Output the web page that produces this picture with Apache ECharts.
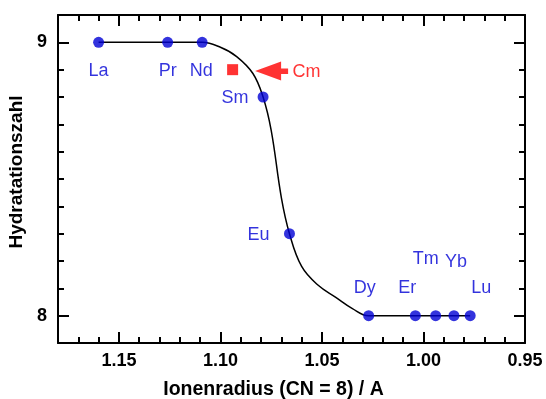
<!DOCTYPE html>
<html>
<head>
<meta charset="utf-8">
<script src="https://cdn.jsdelivr.net/npm/echarts@6/dist/echarts.min.js"></script>
<style>
  html, body { margin: 0; padding: 0; background: #fff; }
  #chart { width: 546px; height: 399px; }
</style>
</head>
<body>
<div id="chart"></div>
<script>
// lanthanides: ionic radius (CN = 8) and hydration number
const lnNames = ["La", "Pr", "Nd", "Sm", "Eu", "Dy", "Er", "Tm", "Yb", "Lu"];
const lnRadii = [1.160, 1.126, 1.109, 1.079, 1.066, 1.027, 1.004, 0.994, 0.985, 0.977];
const lnHydration = [9, 9, 9, 8.80, 8.30, 8, 8, 8, 8, 8];

// curium point and the arrow pointing at it
const cmPoint = [1.094, 8.90];
const cmArrow = [1.0748, 8.895];

// guide curve
const curveX = [1.160, 1.126, 1.109, 1.100, 1.092, 1.084, 1.079, 1.075, 1.070, 1.066,
                1.060, 1.052, 1.043, 1.035, 1.027, 1.004, 0.977];
const curveY = [9.000, 9.000, 9.000, 8.982, 8.948, 8.886, 8.800, 8.678, 8.432, 8.300,
                8.180, 8.112, 8.066, 8.026, 8.000, 8.000, 8.000];

const yLabelValues = [8, 9];

// label placement (pixels, relative to the dot)
const labelOffsets = {
  La: [0, 29], Pr: [0, 29], Nd: [-1, 29], Sm: [-28, 1], Eu: [-31, 1],
  Dy: [-4, -28], Er: [-8, -28], Tm: [-10, -57], Yb: [2, -54], Lu: [11, -28]
};

const blue = '#0000d4';
const red = '#ff0000';
const font = '"Liberation Sans", Arial, sans-serif';

const chart = echarts.init(document.getElementById('chart'));

function xAx(pos, step, len, extra) {
  return Object.assign({
    type: 'value', position: pos, inverse: true, min: 0.95, max: 1.18, interval: step,
    axisLine: { show: len > 8, lineStyle: { color: '#000', width: 2 } },
    axisTick: { show: true, inside: true, length: len, lineStyle: { color: '#000', width: 2 } },
    axisLabel: { show: false },
    splitLine: { show: false }
  }, extra || {});
}

function yAx(pos, major, extra) {
  const a = {
    type: 'value', position: pos, min: 7.9, max: 9.1,
    axisLine: { show: major, lineStyle: { color: '#000', width: 2 } },
    axisTick: { show: true, inside: true, length: major ? 11 : 6, lineStyle: { color: '#000', width: 2 } },
    axisLabel: { show: false },
    splitLine: { show: false }
  };
  if (major) {
    a.axisTick.customValues = yLabelValues;
  } else {
    a.interval = 0.1;
  }
  return Object.assign(a, extra || {});
}

const option = {
  animation: false,
  textStyle: { fontFamily: font },
  grid: { left: 58, right: 21, top: 15, bottom: 56, containLabel: false, outerBoundsMode: 'none' },
  xAxis: [
    xAx('bottom', 0.05, 11, {
      name: 'Ionenradius (CN = 8) / A',
      nameLocation: 'middle',
      nameGap: 37,
      nameTextStyle: {
        color: '#000', fontWeight: 'bold', fontSize: 19.5, fontFamily: font,
        padding: [0, 36, 0, 0]
      },
      axisLabel: {
        show: true, margin: 9, color: '#000', fontWeight: 'bold', fontSize: 18, fontFamily: font,
        formatter: function (v) {
          return Math.abs(v * 20 - Math.round(v * 20)) < 1e-6 ? v.toFixed(2) : '';
        }
      }
    }),
    xAx('bottom', 0.01, 6),
    xAx('top', 0.05, 11),
    xAx('top', 0.01, 6)
  ],
  yAxis: [
    yAx('left', true, {
      name: 'Hydratationszahl',
      nameLocation: 'middle',
      nameGap: 27,
      nameTextStyle: {
        color: '#000', fontWeight: 'bold', fontSize: 19, fontFamily: font,
        padding: [0, 0, 0, 14]
      },
      axisLabel: {
        show: true, margin: 11, color: '#000', fontWeight: 'bold', fontSize: 18, fontFamily: font,
        customValues: yLabelValues
      }
    }),
    yAx('left', false),
    yAx('right', true),
    yAx('right', false)
  ],
  series: [
    {
      type: 'line',
      data: curveX.map((x, i) => [x, curveY[i]]),
      smooth: 0.4,
      showSymbol: false,
      lineStyle: { color: '#000', width: 1.5 },
      z: 2
    },
    {
      type: 'scatter',
      data: lnNames.map((n, i) => ({
        name: n,
        value: [lnRadii[i], lnHydration[i]],
        label: { offset: labelOffsets[n] }
      })),
      symbol: 'circle',
      symbolSize: 11,
      itemStyle: { color: blue },
      label: {
        show: true, position: 'inside', formatter: '{b}',
        color: blue, fontSize: 18, fontFamily: font
      },
      z: 3
    },
    {
      type: 'scatter',
      data: [cmPoint],
      symbol: 'rect',
      symbolSize: 11,
      itemStyle: { color: red },
      z: 3
    },
    {
      type: 'scatter',
      data: [{ name: 'Cm', value: cmArrow }],
      symbol: 'path://M0,9.5L26,0L26,7L33,7L33,12.5L26,12.5L26,19Z',
      symbolSize: [33, 19],
      symbolKeepAspect: false,
      itemStyle: { color: red },
      label: {
        show: true, position: 'inside', offset: [35, 1], formatter: '{b}',
        color: red, fontSize: 18, fontFamily: font
      },
      z: 3
    }
  ]
};

chart.setOption(option);
</script>
</body>
</html>
